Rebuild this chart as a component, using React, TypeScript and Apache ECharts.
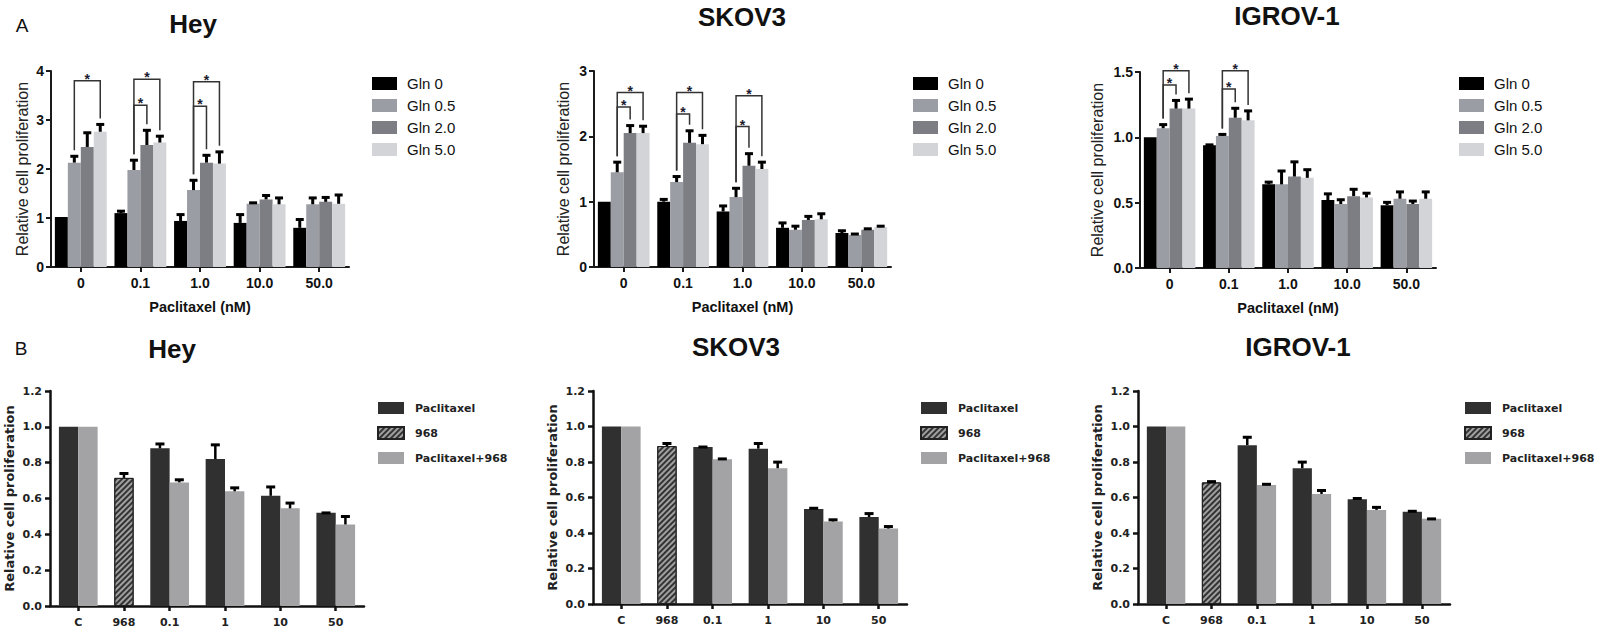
import React, { useEffect, useRef } from 'react';
import * as echarts from 'echarts';

// ---------- DATA ----------
const doseA = ['0', '0.1', '1.0', '10.0', '50.0'];
const glnLevels = ['Gln 0', 'Gln 0.5', 'Gln 2.0', 'Gln 5.0'];
const panelTitles = ['Hey', 'SKOV3', 'IGROV-1'];

// rows = Gln level, columns = paclitaxel dose
const heyA = [
  [1.02, 1.1, 0.94, 0.9, 0.8],
  [2.13, 1.98, 1.57, 1.29, 1.28],
  [2.45, 2.49, 2.13, 1.38, 1.33],
  [2.76, 2.54, 2.11, 1.28, 1.29],
];
const heyAErr = [
  [0, 0.06, 0.15, 0.19, 0.19],
  [0.15, 0.22, 0.22, 0.04, 0.15],
  [0.31, 0.32, 0.17, 0.1, 0.11],
  [0.17, 0.15, 0.26, 0.15, 0.2],
];
const skovA = [
  [1.0, 1.0, 0.85, 0.6, 0.52],
  [1.45, 1.3, 1.07, 0.57, 0.49],
  [2.05, 1.9, 1.55, 0.72, 0.57],
  [2.05, 1.88, 1.5, 0.73, 0.61],
];
const skovAErr = [
  [0, 0.05, 0.1, 0.09, 0.05],
  [0.17, 0.1, 0.15, 0.07, 0.03],
  [0.13, 0.2, 0.2, 0.07, 0.03],
  [0.12, 0.15, 0.12, 0.1, 0.03],
];
const igrovA = [
  [1.0, 0.94, 0.64, 0.52, 0.48],
  [1.07, 1.01, 0.64, 0.49, 0.53],
  [1.22, 1.15, 0.7, 0.55, 0.49],
  [1.22, 1.13, 0.69, 0.54, 0.53],
];
const igrovAErr = [
  [0, 0.01, 0.025, 0.055, 0.03],
  [0.035, 0.02, 0.11, 0.04, 0.06],
  [0.07, 0.08, 0.12, 0.06, 0.03],
  [0.08, 0.08, 0.07, 0.04, 0.06],
];
// significance brackets: [dose index, from Gln level, to Gln level, bracket height]
const heyBrackets = [[0, 1, 3, 3.8], [1, 1, 3, 3.83], [1, 1, 2, 3.3], [2, 1, 3, 3.78], [2, 1, 2, 3.28]];
const skovBrackets = [[0, 1, 3, 2.67], [0, 1, 2, 2.45], [1, 1, 3, 2.67], [1, 1, 2, 2.34], [2, 1, 3, 2.62], [2, 1, 2, 2.15]];
const igrovBrackets = [[0, 1, 3, 1.51], [0, 1, 2, 1.4], [1, 1, 3, 1.51], [1, 1, 2, 1.37]];
const yMaxA = [4, 3, 1.5];
const yStepA = [1, 1, 0.5];

const doseB = ['C', '968', '0.1', '1', '10', '50'];
const treatB = ['Paclitaxel', '968', 'Paclitaxel+968'];
const heyB = [
  [1.0, null, 0.88, 0.82, 0.615, 0.52],
  [null, 0.715, null, null, null, null],
  [1.0, null, 0.69, 0.64, 0.545, 0.455],
];
const heyBErr = [
  [0, 0, 0.03, 0.085, 0.055, 0.005],
  [0, 0.03, 0, 0, 0, 0],
  [0, 0, 0.02, 0.025, 0.035, 0.05],
];
const skovB = [
  [1.0, null, 0.885, 0.875, 0.535, 0.49],
  [null, 0.89, null, null, null, null],
  [1.0, null, 0.815, 0.765, 0.465, 0.425],
];
const skovBErr = [
  [0, 0, 0.005, 0.035, 0.01, 0.025],
  [0, 0.02, 0, 0, 0, 0],
  [0, 0, 0.008, 0.04, 0.015, 0.017],
];
const igrovB = [
  [1.0, null, 0.895, 0.765, 0.59, 0.52],
  [null, 0.685, null, null, null, null],
  [1.0, null, 0.67, 0.62, 0.53, 0.48],
];
const igrovBErr = [
  [0, 0, 0.05, 0.04, 0.01, 0.008],
  [0, 0.01, 0, 0, 0, 0],
  [0, 0, 0.01, 0.025, 0.02, 0.005],
];

// ---------- STYLE / LAYOUT ----------
const FONT_A = '"Liberation Sans", Arial, Helvetica, sans-serif';
const FONT_B = '"DejaVu Sans", "Liberation Sans", sans-serif';
const colorsA = ['#000000', '#9b9da4', '#7d7e83', '#d3d4d8'];
const colorsB = ['#303030', '#a0a0a0', '#a3a3a6'];
const GAP_A = 0.13;
const B_MARGIN = 0.46;
const B_GAP = 0.86;
const AX = '#1a1a1a';

const gridsA = [
  { left: 51, top: 71, width: 298, height: 196 },
  { left: 594, top: 71, width: 297, height: 196 },
  { left: 1140, top: 72, width: 296, height: 196 },
];
const gridsB = [
  { left: 50, top: 391, width: 314, height: 215 },
  { left: 593, top: 391, width: 314, height: 213 },
  { left: 1138, top: 391, width: 312, height: 213 },
];
const nameGapA = [21, 23, 35];
const legendLeftA = [367, 908, 1454];
const legendLeftB = [372, 915, 1459];
const titlePosA = [[193, 24], [742, 17], [1287, 16]];
const titlePosB = [[172, 349], [736, 347], [1298, 347]];

function layoutB(vals: (number | null)[][]) {
  const nCat = vals[0].length;
  const centers: number[] = [];
  const xs: (number | null)[][] = vals.map(() => []);
  let pos = B_MARGIN;
  for (let c = 0; c < nCat; c++) {
    const start = pos;
    let k = 0;
    for (let s = 0; s < vals.length; s++) {
      if (vals[s][c] != null) {
        xs[s][c] = start + k + 0.5;
        k++;
      } else xs[s][c] = null;
    }
    centers.push(start + k / 2);
    pos = start + k + B_GAP;
  }
  return { centers, xs, max: pos - B_GAP + B_MARGIN };
}

function barCenterA(api: any, cat: number, s: number) {
  const band = api.size([1, 0])[0];
  const c = api.coord([cat, 0])[0];
  const total = band * (1 - GAP_A);
  const bw = total / 4;
  return c - total / 2 + bw * (s + 0.5);
}

function buildOption() {
  const dataA = [heyA, skovA, igrovA];
  const errA = [heyAErr, skovAErr, igrovAErr];
  const brA = [heyBrackets, skovBrackets, igrovBrackets];
  const dataB = [heyB, skovB, igrovB];
  const errB = [heyBErr, skovBErr, igrovBErr];

  const grid: any[] = [];
  const xAxis: any[] = [];
  const yAxis: any[] = [];
  const series: any[] = [];
  const legend: any[] = [];
  const graphic: any[] = [];

  const axisLineA = { show: true, onZero: false, lineStyle: { color: AX, width: 2 } };
  const axisTickA = { show: true, length: 5, lineStyle: { color: AX, width: 2 } };

  // ----- Panel A -----
  for (let p = 0; p < 3; p++) {
    grid.push({ ...gridsA[p], containLabel: false, outerBoundsMode: 'none' });
    xAxis.push({
      type: 'category', gridIndex: p, data: doseA, boundaryGap: true,
      axisLine: axisLineA,
      axisTick: { ...axisTickA, alignWithLabel: true },
      axisLabel: { fontFamily: FONT_A, fontWeight: 'bold', fontSize: 14, color: '#111', margin: 9 },
      name: 'Paclitaxel (nM)', nameLocation: 'middle', nameGap: 32, nameMoveOverlap: false,
      nameTextStyle: { fontFamily: FONT_A, fontWeight: 'bold', fontSize: 14.5, color: '#111' },
    });
    yAxis.push({
      type: 'value', gridIndex: p, min: 0, max: yMaxA[p], interval: yStepA[p],
      name: 'Relative cell proliferation', nameLocation: 'middle', nameGap: nameGapA[p], nameRotate: 90,
      nameMoveOverlap: false,
      nameTextStyle: { fontFamily: FONT_A, fontSize: 16, color: '#222' },
      axisLine: axisLineA, axisTick: axisTickA,
      axisLabel: {
        fontFamily: FONT_A, fontWeight: 'bold', fontSize: 14, color: '#111', margin: 7,
        formatter: (v: number) => (p === 2 ? v.toFixed(1) : String(v)),
      },
      splitLine: { show: false },
    });
    const vals = dataA[p];
    const errs = errA[p];
    for (let s = 0; s < 4; s++) {
      series.push({
        type: 'bar', name: glnLevels[s], xAxisIndex: p, yAxisIndex: p,
        data: vals[s], barGap: '0%', barCategoryGap: `${GAP_A * 100}%`,
        itemStyle: { color: colorsA[s] }, z: 2, silent: true,
      });
    }
    const errData: number[][] = [];
    for (let s = 0; s < 4; s++)
      for (let c = 0; c < doseA.length; c++) errData.push([c, vals[s][c], errs[s][c], s]);
    series.push({
      type: 'custom', xAxisIndex: p, yAxisIndex: p, z: 5, silent: true,
      data: errData, encode: { x: 0, y: 1 },
      renderItem: (params: any, api: any) => {
        const c = api.value(0), v = api.value(1), e = api.value(2), s = api.value(3);
        if (!(e > 0)) return null;
        const x = barCenterA(api, c, s);
        const yb = api.coord([c, v])[1];
        const yt = api.coord([c, v + e])[1];
        return {
          type: 'group', children: [
            { type: 'line', shape: { x1: x, y1: yb, x2: x, y2: yt + 1 }, style: { stroke: '#000', lineWidth: 3 } },
            { type: 'line', shape: { x1: x - 4, y1: yt + 1, x2: x + 4, y2: yt + 1 }, style: { stroke: '#000', lineWidth: 3 } },
          ],
        };
      },
    });
    series.push({
      type: 'custom', xAxisIndex: p, yAxisIndex: p, z: 6, silent: true,
      data: brA[p], encode: { x: 0, y: 3 },
      renderItem: (params: any, api: any) => {
        const cat = api.value(0), from = api.value(1), to = api.value(2), h = api.value(3);
        const xf = barCenterA(api, cat, from);
        const xt = barCenterA(api, cat, to);
        const yh = api.coord([cat, h])[1];
        const yf = api.coord([cat, vals[from][cat] + errs[from][cat]])[1] - 5;
        const yt = api.coord([cat, vals[to][cat] + errs[to][cat]])[1] - 5;
        return {
          type: 'group', children: [
            { type: 'polyline', shape: { points: [[xf, yf], [xf, yh], [xt, yh], [xt, yt]] }, style: { stroke: '#333', lineWidth: 1.5, fill: 'none' } },
            {
              type: 'text', style: {
                text: '*', x: (xf + xt) / 2, y: yh - 2, fill: '#1b1b30',
                fontFamily: FONT_A, fontWeight: 'bold', fontSize: 14,
                align: 'center', verticalAlign: 'middle', textAlign: 'center', textVerticalAlign: 'middle',
              },
            },
          ],
        };
      },
    });
    legend.push({
      data: glnLevels, orient: 'vertical', left: legendLeftA[p], top: 71,
      icon: 'rect', itemWidth: 25, itemHeight: 13, itemGap: 7, selectedMode: false,
      itemStyle: { borderWidth: 0 },
      textStyle: { fontFamily: FONT_A, fontSize: 15, color: '#111', padding: [0, 0, 0, 5] },
    });
    graphic.push({
      type: 'text', x: titlePosA[p][0], y: titlePosA[p][1], silent: true,
      style: {
        text: panelTitles[p], fill: '#111', fontFamily: FONT_A, fontWeight: 'bold', fontSize: 26,
        align: 'center', verticalAlign: 'middle', textAlign: 'center', textVerticalAlign: 'middle',
      },
    });
  }

  // ----- Panel B -----
  const axisLineB = { show: true, onZero: false, lineStyle: { color: '#111', width: 2.5 } };
  const axisTickB = { show: true, length: 5, lineStyle: { color: '#111', width: 2.5 } };
  for (let p = 0; p < 3; p++) {
    const gi = 3 + p;
    const L = layoutB(dataB[p]);
    const mainX = xAxis.length;
    grid.push({ ...gridsB[p], containLabel: false, outerBoundsMode: 'none' });
    xAxis.push({
      type: 'value', gridIndex: gi, min: 0, max: L.max,
      axisLine: axisLineB,
      axisTick: { ...axisTickB, customValues: L.centers },
      axisLabel: {
        customValues: L.centers, fontFamily: FONT_B, fontWeight: 'bold', fontSize: 11, color: '#222', margin: 11,
        formatter: (v: number) => {
          let best = 0;
          L.centers.forEach((c, i) => { if (Math.abs(c - v) < Math.abs(L.centers[best] - v)) best = i; });
          return doseB[best];
        },
      },
      splitLine: { show: false },
    });
    xAxis.push({ type: 'value', gridIndex: gi, min: 0, max: L.max, show: false });
    xAxis.push({ type: 'value', gridIndex: gi, min: 0, max: L.max, show: false });
    yAxis.push({
      type: 'value', gridIndex: gi, min: 0, max: 1.2, interval: 0.2,
      name: 'Relative cell proliferation', nameLocation: 'middle', nameGap: 34, nameRotate: 90,
      nameMoveOverlap: false,
      nameTextStyle: { fontFamily: FONT_B, fontWeight: 'bold', fontSize: 13, color: '#222' },
      axisLine: axisLineB, axisTick: axisTickB,
      axisLabel: { fontFamily: FONT_B, fontWeight: 'bold', fontSize: 11, color: '#222', margin: 8, formatter: (v: number) => v.toFixed(1) },
      splitLine: { show: false },
    });
    const pxPerUnit = gridsB[p].width / L.max;
    const vals = dataB[p];
    const errs = errB[p];
    for (let s = 0; s < 3; s++) {
      const d: number[][] = [];
      for (let c = 0; c < doseB.length; c++) {
        const v = vals[s][c];
        const x = L.xs[s][c];
        if (v != null && x != null) d.push([x, v]);
      }
      const itemStyle: any = { color: colorsB[s] };
      if (s === 1) {
        itemStyle.borderColor = '#222';
        itemStyle.borderWidth = 1;
        itemStyle.decal = {
          symbol: 'rect', symbolSize: 1, dashArrayX: [1, 0], dashArrayY: [2, 2],
          rotation: -Math.PI / 4, color: '#333333',
        };
      }
      series.push({
        type: 'bar', name: treatB[s], xAxisIndex: mainX + s, yAxisIndex: gi,
        data: d, barWidth: pxPerUnit, barGap: '-100%', itemStyle, z: 2, silent: true,
      });
    }
    const errData: number[][] = [];
    for (let s = 0; s < 3; s++)
      for (let c = 0; c < doseB.length; c++) {
        const v = vals[s][c];
        const x = L.xs[s][c];
        if (v != null && x != null && errs[s][c] > 0) errData.push([x, v, errs[s][c]]);
      }
    series.push({
      type: 'custom', xAxisIndex: mainX, yAxisIndex: gi, z: 5, silent: true,
      data: errData, encode: { x: 0, y: 1 },
      renderItem: (params: any, api: any) => {
        const x = api.value(0), v = api.value(1), e = api.value(2);
        const b = api.coord([x, v]);
        const t = api.coord([x, v + e]);
        return {
          type: 'group', children: [
            { type: 'line', shape: { x1: b[0], y1: b[1], x2: t[0], y2: t[1] + 1 }, style: { stroke: '#000', lineWidth: 2.5 } },
            { type: 'line', shape: { x1: t[0] - 4.5, y1: t[1] + 1, x2: t[0] + 4.5, y2: t[1] + 1 }, style: { stroke: '#000', lineWidth: 3 } },
          ],
        };
      },
    });
    legend.push({
      data: treatB, orient: 'vertical', left: legendLeftB[p], top: 397,
      icon: 'rect', itemWidth: 26, itemHeight: 12, itemGap: 12, selectedMode: false,
      textStyle: { fontFamily: FONT_B, fontWeight: 'bold', fontSize: 11, color: '#222', padding: [0, 0, 0, 6] },
    });
    graphic.push({
      type: 'text', x: titlePosB[p][0], y: titlePosB[p][1], silent: true,
      style: {
        text: panelTitles[p], fill: '#111', fontFamily: FONT_A, fontWeight: 'bold', fontSize: 26,
        align: 'center', verticalAlign: 'middle', textAlign: 'center', textVerticalAlign: 'middle',
      },
    });
  }

  graphic.push({
    type: 'text', x: 22, y: 25, silent: true,
    style: { text: 'A', fill: '#111', fontFamily: FONT_A, fontSize: 19, align: 'center', verticalAlign: 'middle', textAlign: 'center', textVerticalAlign: 'middle' },
  });
  graphic.push({
    type: 'text', x: 21, y: 348, silent: true,
    style: { text: 'B', fill: '#111', fontFamily: FONT_A, fontSize: 19, align: 'center', verticalAlign: 'middle', textAlign: 'center', textVerticalAlign: 'middle' },
  });

  return {
    animation: false,
    backgroundColor: '#ffffff',
    grid, xAxis, yAxis, series, legend, graphic,
    tooltip: { show: false },
  };
}

export default function App() {
  const ref = useRef<HTMLDivElement>(null);
  useEffect(() => {
    if (!ref.current) return;
    const chart = echarts.init(ref.current, undefined, { renderer: 'svg' });
    chart.setOption(buildOption() as any);
    return () => chart.dispose();
  }, []);
  return (
    <div
      ref={ref}
      style={{ position: 'absolute', left: 0, top: 0, width: 1599, height: 629, background: '#fff' }}
    />
  );
}
